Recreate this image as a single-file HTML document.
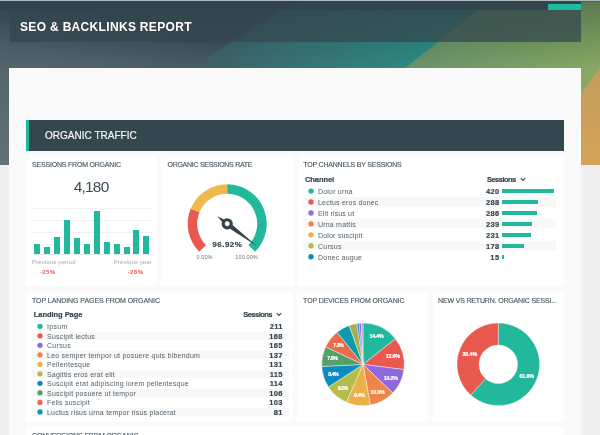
<!DOCTYPE html>
<html><head><meta charset="utf-8"><title>SEO &amp; Backlinks Report</title>
<style>
html,body{margin:0;padding:0;background:#efefef}
body{width:600px;height:435px;overflow:hidden;position:relative;font-family:"Liberation Sans",sans-serif}
#w{position:absolute;left:-20px;top:-20px;width:640px;height:475px;background:#efefef;overflow:hidden;filter:blur(0.45px)}
#c{position:absolute;left:20px;top:20px;width:600px;height:435px}
.r{position:absolute;display:block}
.t{position:absolute;display:block;white-space:nowrap;line-height:1;font-family:"Liberation Sans",sans-serif}
</style></head><body><div id="w"><div id="c">
<svg class="r" style="left:-20px;top:-20px" width="640" height="185" viewBox="-20 -20 640 185">
<defs>
<linearGradient id="gs" gradientUnits="userSpaceOnUse" x1="30" y1="0" x2="0" y2="165"><stop offset="0" stop-color="#3a4d56"/><stop offset="0.3" stop-color="#50626a"/><stop offset="1" stop-color="#627177"/></linearGradient>
<linearGradient id="gt" gradientUnits="userSpaceOnUse" x1="180" y1="0" x2="440" y2="0"><stop offset="0" stop-color="#3d6468" stop-opacity="0"/><stop offset="0.12" stop-color="#3d6468" stop-opacity="0.9"/><stop offset="0.35" stop-color="#3a7072"/><stop offset="1" stop-color="#2b8f85"/></linearGradient>
<linearGradient id="gg" gradientUnits="userSpaceOnUse" x1="400" y1="20" x2="600" y2="120"><stop offset="0" stop-color="#5f8f6c"/><stop offset="0.25" stop-color="#6f9968"/><stop offset="0.75" stop-color="#82a663"/><stop offset="1" stop-color="#8dab61"/></linearGradient><linearGradient id="gd" x1="0" y1="0" x2="0" y2="1"><stop offset="0" stop-color="#1f3038" stop-opacity="0.38"/><stop offset="1" stop-color="#1f3038" stop-opacity="0"/></linearGradient>
<linearGradient id="go" gradientUnits="userSpaceOnUse" x1="0" y1="68" x2="0" y2="165"><stop offset="0" stop-color="#c29c5c"/><stop offset="1" stop-color="#d6a458"/></linearGradient>
</defs>
<rect x="-20" y="-20" width="640" height="185" fill="url(#gs)"/>
<polygon points="163,85 329.8,-20 548,-20 400,85" fill="url(#gt)"/>
<polygon points="384,85 515,-20 620,-20 620,165 500,165" fill="url(#gg)"/>
<polygon points="526,165 581,93 620,41.7 620,165" fill="url(#go)"/>
<rect x="-20" y="0" width="640" height="70" fill="url(#gd)"/>
</svg>
<div class="r" style="left:-20px;top:-20px;width:640px;height:20px;background:#c3ccd0"></div><div class="r" style="left:-20px;top:0;width:640px;height:2.4px;background:linear-gradient(#c3ccd0,#a5b0b5 35%,rgba(60,78,86,0.6) 70%,rgba(43,59,67,0))"></div>
<div class="r" style="left:-20px;top:1.4px;width:601.00px;height:9.00px;background:rgba(50,68,77,0.97);"></div>
<div class="r" style="left:548px;top:3.6px;width:33.20px;height:6.80px;background:#20b9a1;"></div>
<div class="r" style="left:10px;top:10.4px;width:571.00px;height:32.10px;background:rgba(52,70,78,0.72);"></div>
<span class="t" style="left:20.00px;top:21px;font-size:12px;color:#ffffff;font-weight:bold;letter-spacing:0.325px;">SEO &amp; BACKLINKS REPORT</span>
<div class="r" style="left:9px;top:68px;width:572.00px;height:392.00px;background:#fafafa;"></div>
<div class="r" style="left:26px;top:119.5px;width:537.50px;height:31.00px;background:#34474f;"></div>
<div class="r" style="left:26px;top:119.5px;width:3.00px;height:31.00px;background:#1fb89c;"></div>
<span class="t" style="left:45.00px;top:131px;font-size:10px;color:#f4f6f7;letter-spacing:0.016px;-webkit-text-stroke:0.2px #f4f6f7;">ORGANIC TRAFFIC</span>
<div class="r" style="left:26px;top:155.5px;width:131.00px;height:130.80px;background:#ffffff;"></div>
<div class="r" style="left:161px;top:155.5px;width:133.00px;height:130.80px;background:#ffffff;"></div>
<div class="r" style="left:297.5px;top:155.5px;width:266.00px;height:130.80px;background:#ffffff;"></div>
<div class="r" style="left:26px;top:292px;width:267.00px;height:129.50px;background:#ffffff;"></div>
<div class="r" style="left:297px;top:292px;width:131.00px;height:129.50px;background:#ffffff;"></div>
<div class="r" style="left:432.5px;top:292px;width:131.00px;height:129.50px;background:#ffffff;"></div>
<div class="r" style="left:26px;top:426.5px;width:537.50px;height:33.50px;background:#ffffff;"></div>
<span class="t" style="left:32.00px;top:161px;font-size:7px;color:#4d5b63;letter-spacing:-0.198px;-webkit-text-stroke:0.15px #4d5b63;">SESSIONS FROM ORGANIC</span>
<span class="t" style="left:167.50px;top:161px;font-size:7px;color:#4d5b63;letter-spacing:-0.275px;-webkit-text-stroke:0.15px #4d5b63;">ORGANIC SESSIONS RATE</span>
<span class="t" style="left:303.25px;top:161px;font-size:7px;color:#4d5b63;letter-spacing:-0.200px;-webkit-text-stroke:0.15px #4d5b63;">TOP CHANNELS BY SESSIONS</span>
<span class="t" style="left:32.00px;top:297px;font-size:7px;color:#4d5b63;letter-spacing:-0.066px;-webkit-text-stroke:0.15px #4d5b63;">TOP LANDING PAGES FROM ORGANIC</span>
<span class="t" style="left:303.10px;top:297px;font-size:7px;color:#4d5b63;letter-spacing:-0.112px;-webkit-text-stroke:0.15px #4d5b63;">TOP DEVICES FROM ORGANIC</span>
<span class="t" style="left:438.10px;top:297px;font-size:7px;color:#4d5b63;letter-spacing:-0.169px;-webkit-text-stroke:0.15px #4d5b63;">NEW VS RETURN. ORGANIC SESSI...</span>
<span class="t" style="left:32.00px;top:432px;font-size:7px;color:#4d5b63;letter-spacing:-0.104px;-webkit-text-stroke:0.15px #4d5b63;">CONVERSIONS FROM ORGANIC</span>
<span class="t" style="left:73.75px;top:179px;font-size:15.5px;color:#3d4c55;letter-spacing:-0.821px;">4,180</span>
<div class="r" style="left:32px;top:208px;width:120.00px;height:0.60px;background:#eff1f2;"></div>
<div class="r" style="left:32px;top:220px;width:120.00px;height:0.60px;background:#eff1f2;"></div>
<div class="r" style="left:32px;top:232px;width:120.00px;height:0.60px;background:#eff1f2;"></div>
<div class="r" style="left:32px;top:243.5px;width:120.00px;height:0.60px;background:#eff1f2;"></div>
<div class="r" style="left:32px;top:254px;width:120.00px;height:0.70px;background:#e8eaec;"></div>
<div class="r" style="left:34.25px;top:243.75px;width:6.00px;height:10.45px;background:#22b89c;"></div>
<div class="r" style="left:44px;top:247.25px;width:6.00px;height:6.95px;background:#22b89c;"></div>
<div class="r" style="left:54px;top:236.75px;width:6.00px;height:17.45px;background:#22b89c;"></div>
<div class="r" style="left:63.75px;top:220.25px;width:6.00px;height:33.95px;background:#22b89c;"></div>
<div class="r" style="left:73.75px;top:237.75px;width:6.00px;height:16.45px;background:#22b89c;"></div>
<div class="r" style="left:83.75px;top:243.5px;width:6.00px;height:10.70px;background:#22b89c;"></div>
<div class="r" style="left:93.5px;top:211px;width:6.00px;height:43.20px;background:#22b89c;"></div>
<div class="r" style="left:103.5px;top:242px;width:6.00px;height:12.20px;background:#22b89c;"></div>
<div class="r" style="left:113.5px;top:243.5px;width:6.00px;height:10.70px;background:#22b89c;"></div>
<div class="r" style="left:123.5px;top:247.25px;width:6.00px;height:6.95px;background:#22b89c;"></div>
<div class="r" style="left:133.25px;top:229.5px;width:6.00px;height:24.70px;background:#22b89c;"></div>
<div class="r" style="left:143.25px;top:235.75px;width:6.00px;height:18.45px;background:#22b89c;"></div>
<span class="t" style="left:32.00px;top:259px;font-size:6px;color:#a3a9ad;letter-spacing:0.130px;">Previous period</span>
<span class="t" style="left:113.75px;top:259px;font-size:6px;color:#a3a9ad;letter-spacing:0.110px;">Previous year</span>
<span class="t" style="left:40.00px;top:269px;font-size:6px;color:#e8554d;font-weight:bold;letter-spacing:0.331px;">-25%</span>
<span class="t" style="left:127.50px;top:269px;font-size:6px;color:#e8554d;font-weight:bold;letter-spacing:0.498px;">-28%</span>
<svg class="r" style="left:0;top:0" width="600" height="435" viewBox="0 0 600 435"><path d="M199.27,251.73A39.5,39.5 0 0 1 190.71,208.68L199.48,212.32A30,30 0 0 0 205.99,245.01Z" fill="#e9594f"/><path d="M190.71,208.68A39.5,39.5 0 0 1 227.20,184.30L227.20,193.80A30,30 0 0 0 199.48,212.32Z" fill="#efb94d"/><path d="M227.20,184.30A39.5,39.5 0 0 1 255.13,251.73L248.41,245.01A30,30 0 0 0 227.20,193.80Z" fill="#22b89c"/><polygon points="257.23,246.26 225.64,225.88 217.19,216.31 228.76,221.72" fill="#33444d"/><circle cx="227.2" cy="223.8" r="5.6" fill="#33444d"/><circle cx="227.2" cy="223.8" r="2.45" fill="#ffffff"/></svg>
<span class="t" style="left:212.30px;top:241px;font-size:8px;color:#36454d;font-weight:bold;letter-spacing:0.494px;-webkit-text-stroke:0.2px #36454d;">96.92%</span>
<span class="t" style="left:196.50px;top:255px;font-size:5.5px;color:#6b777e;letter-spacing:0.101px;">0.00%</span>
<span class="t" style="left:235.30px;top:255px;font-size:5.5px;color:#6b777e;letter-spacing:0.115px;">100.00%</span>
<span class="t" style="left:305.00px;top:176px;font-size:7.5px;color:#36454d;font-weight:bold;letter-spacing:-0.064px;-webkit-text-stroke:0.2px #36454d;">Channel</span>
<span class="t" style="left:487.00px;top:176px;font-size:7.5px;color:#36454d;font-weight:bold;letter-spacing:-0.533px;-webkit-text-stroke:0.2px #36454d;">Sessions</span>
<svg class="r" style="left:520.2px;top:177px" width="6" height="5" viewBox="0 0 6 5"><path d="M0.8,1.2 L3,3.5 L5.2,1.2" fill="none" stroke="#38474f" stroke-width="1.15"/></svg>
<span class="t" style="left:318.00px;top:188px;font-size:7px;color:#525f67;letter-spacing:0.200px;">Dolor urna</span>
<span class="t" style="left:485.96px;top:188px;font-size:7.5px;color:#36454d;font-weight:bold;letter-spacing:0.313px;-webkit-text-stroke:0.2px #36454d;">420</span>
<div class="r" style="left:502px;top:188.9px;width:51.91px;height:4.40px;background:#22b89c;"></div>
<div class="r" style="left:303px;top:197.47px;width:252.50px;height:9.14px;background:#f8f8f8;"></div>
<span class="t" style="left:318.00px;top:199px;font-size:7px;color:#525f67;letter-spacing:0.197px;">Lectus eros donec</span>
<span class="t" style="left:485.96px;top:199px;font-size:7.5px;color:#36454d;font-weight:bold;letter-spacing:0.313px;-webkit-text-stroke:0.2px #36454d;">288</span>
<div class="r" style="left:502px;top:199.84px;width:35.60px;height:4.40px;background:#22b89c;"></div>
<span class="t" style="left:318.00px;top:210px;font-size:7px;color:#525f67;letter-spacing:0.157px;">Elit risus ut</span>
<span class="t" style="left:485.96px;top:210px;font-size:7.5px;color:#36454d;font-weight:bold;letter-spacing:0.313px;-webkit-text-stroke:0.2px #36454d;">286</span>
<div class="r" style="left:502px;top:210.78px;width:35.35px;height:4.40px;background:#22b89c;"></div>
<div class="r" style="left:303px;top:219.35px;width:252.50px;height:9.14px;background:#f8f8f8;"></div>
<span class="t" style="left:318.00px;top:221px;font-size:7px;color:#525f67;letter-spacing:0.197px;">Urna mattis</span>
<span class="t" style="left:485.96px;top:221px;font-size:7.5px;color:#36454d;font-weight:bold;letter-spacing:0.313px;-webkit-text-stroke:0.2px #36454d;">239</span>
<div class="r" style="left:502px;top:221.72px;width:29.54px;height:4.40px;background:#22b89c;"></div>
<span class="t" style="left:318.00px;top:232px;font-size:7px;color:#525f67;letter-spacing:0.178px;">Dolor suscipit</span>
<span class="t" style="left:485.96px;top:232px;font-size:7.5px;color:#36454d;font-weight:bold;letter-spacing:0.313px;-webkit-text-stroke:0.2px #36454d;">231</span>
<div class="r" style="left:502px;top:232.66px;width:28.55px;height:4.40px;background:#22b89c;"></div>
<div class="r" style="left:303px;top:241.23px;width:252.50px;height:9.14px;background:#f8f8f8;"></div>
<span class="t" style="left:318.00px;top:243px;font-size:7px;color:#525f67;letter-spacing:0.244px;">Cursus</span>
<span class="t" style="left:485.96px;top:243px;font-size:7.5px;color:#36454d;font-weight:bold;letter-spacing:0.313px;-webkit-text-stroke:0.2px #36454d;">178</span>
<div class="r" style="left:502px;top:243.6px;width:22.00px;height:4.40px;background:#22b89c;"></div>
<span class="t" style="left:318.00px;top:254px;font-size:7px;color:#525f67;letter-spacing:0.229px;">Donec augue</span>
<span class="t" style="left:490.34px;top:254px;font-size:7.5px;color:#36454d;font-weight:bold;letter-spacing:0.417px;-webkit-text-stroke:0.2px #36454d;">15</span>
<div class="r" style="left:502px;top:254.54000000000002px;width:1.85px;height:4.40px;background:#22b89c;"></div>
<span class="t" style="left:33.75px;top:311px;font-size:7.5px;color:#36454d;font-weight:bold;letter-spacing:-0.042px;-webkit-text-stroke:0.2px #36454d;">Landing Page</span>
<span class="t" style="left:243.25px;top:311px;font-size:7.5px;color:#36454d;font-weight:bold;letter-spacing:-0.533px;-webkit-text-stroke:0.2px #36454d;">Sessions</span>
<svg class="r" style="left:276.4px;top:312.3px" width="6" height="5" viewBox="0 0 6 5"><path d="M0.8,1.2 L3,3.5 L5.2,1.2" fill="none" stroke="#38474f" stroke-width="1.15"/></svg>
<span class="t" style="left:47.00px;top:323px;font-size:7px;color:#525f67;letter-spacing:0.324px;">Ipsum</span>
<span class="t" style="left:269.70px;top:323px;font-size:7.5px;color:#36454d;font-weight:bold;letter-spacing:0.302px;-webkit-text-stroke:0.2px #36454d;">211</span>
<div class="r" style="left:32px;top:331.65500000000003px;width:257.00px;height:8.31px;background:#f8f8f8;"></div>
<span class="t" style="left:47.00px;top:333px;font-size:7px;color:#525f67;letter-spacing:0.217px;">Suscipit lectus</span>
<span class="t" style="left:269.26px;top:333px;font-size:7.5px;color:#36454d;font-weight:bold;letter-spacing:0.313px;-webkit-text-stroke:0.2px #36454d;">168</span>
<span class="t" style="left:47.00px;top:342px;font-size:7px;color:#525f67;letter-spacing:0.302px;">Cursus</span>
<span class="t" style="left:269.26px;top:342px;font-size:7.5px;color:#36454d;font-weight:bold;letter-spacing:0.313px;-webkit-text-stroke:0.2px #36454d;">165</span>
<div class="r" style="left:32px;top:350.67500000000007px;width:257.00px;height:8.31px;background:#f8f8f8;"></div>
<span class="t" style="left:47.00px;top:352px;font-size:7px;color:#525f67;letter-spacing:0.237px;">Leo semper tempor ut posuere quis bibendum</span>
<span class="t" style="left:269.26px;top:352px;font-size:7.5px;color:#36454d;font-weight:bold;letter-spacing:0.313px;-webkit-text-stroke:0.2px #36454d;">137</span>
<span class="t" style="left:47.00px;top:361px;font-size:7px;color:#525f67;letter-spacing:0.250px;">Pellentesque</span>
<span class="t" style="left:269.26px;top:361px;font-size:7.5px;color:#36454d;font-weight:bold;letter-spacing:0.313px;-webkit-text-stroke:0.2px #36454d;">131</span>
<div class="r" style="left:32px;top:369.69500000000005px;width:257.00px;height:8.31px;background:#f8f8f8;"></div>
<span class="t" style="left:47.00px;top:371px;font-size:7px;color:#525f67;letter-spacing:0.196px;">Sagittis eros erat elit</span>
<span class="t" style="left:269.70px;top:371px;font-size:7.5px;color:#36454d;font-weight:bold;letter-spacing:0.302px;-webkit-text-stroke:0.2px #36454d;">115</span>
<span class="t" style="left:47.00px;top:380px;font-size:7px;color:#525f67;letter-spacing:0.215px;">Suscipit erat adipiscing lorem pellentesque</span>
<span class="t" style="left:269.70px;top:380px;font-size:7.5px;color:#36454d;font-weight:bold;letter-spacing:0.302px;-webkit-text-stroke:0.2px #36454d;">114</span>
<div class="r" style="left:32px;top:388.71500000000003px;width:257.00px;height:8.31px;background:#f8f8f8;"></div>
<span class="t" style="left:47.00px;top:390px;font-size:7px;color:#525f67;letter-spacing:0.226px;">Suscipit posuere ut tempor</span>
<span class="t" style="left:269.26px;top:390px;font-size:7.5px;color:#36454d;font-weight:bold;letter-spacing:0.313px;-webkit-text-stroke:0.2px #36454d;">106</span>
<span class="t" style="left:47.00px;top:399px;font-size:7px;color:#525f67;letter-spacing:0.210px;">Felis suscipit</span>
<span class="t" style="left:269.26px;top:399px;font-size:7.5px;color:#36454d;font-weight:bold;letter-spacing:0.313px;-webkit-text-stroke:0.2px #36454d;">103</span>
<div class="r" style="left:32px;top:407.735px;width:257.00px;height:8.31px;background:#f8f8f8;"></div>
<span class="t" style="left:47.00px;top:409px;font-size:7px;color:#525f67;letter-spacing:0.216px;">Luctus risus urna tempor risus placerat</span>
<span class="t" style="left:273.64px;top:409px;font-size:7.5px;color:#36454d;font-weight:bold;letter-spacing:0.417px;-webkit-text-stroke:0.2px #36454d;">81</span>
<svg class="r" style="left:0;top:0" width="600" height="435" viewBox="0 0 600 435"><circle cx="311" cy="191.10" r="2.7" fill="#22b89c"/><circle cx="311" cy="202.04" r="2.7" fill="#e9594f"/><circle cx="311" cy="212.98" r="2.7" fill="#8f69dc"/><circle cx="311" cy="223.92" r="2.7" fill="#f0854c"/><circle cx="311" cy="234.86" r="2.7" fill="#ebb04a"/><circle cx="311" cy="245.80" r="2.7" fill="#b5bd48"/><circle cx="311" cy="256.74" r="2.7" fill="#0b8cc0"/><circle cx="40" cy="326.30" r="2.65" fill="#22b89c"/><circle cx="40" cy="335.81" r="2.65" fill="#e9594f"/><circle cx="40" cy="345.32" r="2.65" fill="#8f69dc"/><circle cx="40" cy="354.83" r="2.65" fill="#f0854c"/><circle cx="40" cy="364.34" r="2.65" fill="#ebb04a"/><circle cx="40" cy="373.85" r="2.65" fill="#b5bd48"/><circle cx="40" cy="383.36" r="2.65" fill="#0b8cc0"/><circle cx="40" cy="392.87" r="2.65" fill="#55a065"/><circle cx="40" cy="402.38" r="2.65" fill="#ea6b4b"/><circle cx="40" cy="411.89" r="2.65" fill="#0b9bab"/></svg>
<svg class="r" style="left:0;top:0" width="600" height="435" viewBox="0 0 600 435"><path d="M363.00,364.40L363.00,323.10A41.3,41.3 0 0 1 395.47,338.88Z" fill="#22b89c" stroke="#fbfbfb" stroke-opacity="0.75" stroke-width="0.6" stroke-linejoin="round"/><path d="M363.00,364.40L395.47,338.88A41.3,41.3 0 0 1 403.97,369.58Z" fill="#e9594f" stroke="#fbfbfb" stroke-opacity="0.75" stroke-width="0.6" stroke-linejoin="round"/><path d="M363.00,364.40L403.97,369.58A41.3,41.3 0 0 1 392.75,393.05Z" fill="#8f69dc" stroke="#fbfbfb" stroke-opacity="0.75" stroke-width="0.6" stroke-linejoin="round"/><path d="M363.00,364.40L392.75,393.05A41.3,41.3 0 0 1 370.23,405.06Z" fill="#f0854c" stroke="#fbfbfb" stroke-opacity="0.75" stroke-width="0.6" stroke-linejoin="round"/><path d="M363.00,364.40L370.23,405.06A41.3,41.3 0 0 1 346.36,402.20Z" fill="#ebb04a" stroke="#fbfbfb" stroke-opacity="0.75" stroke-width="0.6" stroke-linejoin="round"/><path d="M363.00,364.40L346.36,402.20A41.3,41.3 0 0 1 328.41,386.97Z" fill="#b5bd48" stroke="#fbfbfb" stroke-opacity="0.75" stroke-width="0.6" stroke-linejoin="round"/><path d="M363.00,364.40L328.41,386.97A41.3,41.3 0 0 1 321.75,366.48Z" fill="#0b8cc0" stroke="#fbfbfb" stroke-opacity="0.75" stroke-width="0.6" stroke-linejoin="round"/><path d="M363.00,364.40L321.75,366.48A41.3,41.3 0 0 1 325.63,346.82Z" fill="#55a065" stroke="#fbfbfb" stroke-opacity="0.75" stroke-width="0.6" stroke-linejoin="round"/><path d="M363.00,364.40L325.63,346.82A41.3,41.3 0 0 1 337.08,332.25Z" fill="#ea6b4b" stroke="#fbfbfb" stroke-opacity="0.75" stroke-width="0.6" stroke-linejoin="round"/><path d="M363.00,364.40L337.08,332.25A41.3,41.3 0 0 1 349.25,325.45Z" fill="#0b9bab" stroke="#fbfbfb" stroke-opacity="0.75" stroke-width="0.6" stroke-linejoin="round"/><path d="M363.00,364.40L349.25,325.45A41.3,41.3 0 0 1 356.80,323.57Z" fill="#a3b04e" stroke="#fbfbfb" stroke-opacity="0.75" stroke-width="0.6" stroke-linejoin="round"/><path d="M363.00,364.40L356.80,323.57A41.3,41.3 0 0 1 359.11,323.28Z" fill="#3f7fd8" stroke="#fbfbfb" stroke-opacity="0.75" stroke-width="0.6" stroke-linejoin="round"/><path d="M363.00,364.40L359.11,323.28A41.3,41.3 0 0 1 361.31,323.13Z" fill="#8a68dc" stroke="#fbfbfb" stroke-opacity="0.75" stroke-width="0.6" stroke-linejoin="round"/><path d="M363.00,364.40L361.31,323.13A41.3,41.3 0 0 1 363.00,323.10Z" fill="#a99fe8" stroke="#fbfbfb" stroke-opacity="0.75" stroke-width="0.6" stroke-linejoin="round"/></svg>
<span class="t" style="left:369.39px;top:334px;font-size:5.3px;color:#ffffff;font-weight:bold;letter-spacing:-0.182px;-webkit-text-stroke:0.2px #ffffff;">14.4%</span>
<span class="t" style="left:385.70px;top:354px;font-size:5.3px;color:#ffffff;font-weight:bold;letter-spacing:-0.182px;-webkit-text-stroke:0.2px #ffffff;">12.6%</span>
<span class="t" style="left:383.79px;top:376px;font-size:5.3px;color:#ffffff;font-weight:bold;letter-spacing:-0.182px;-webkit-text-stroke:0.2px #ffffff;">10.2%</span>
<span class="t" style="left:370.43px;top:390px;font-size:5.3px;color:#ffffff;font-weight:bold;letter-spacing:-0.182px;-webkit-text-stroke:0.2px #ffffff;">10.0%</span>
<span class="t" style="left:354.01px;top:393px;font-size:5.3px;color:#ffffff;font-weight:bold;letter-spacing:-0.493px;-webkit-text-stroke:0.2px #ffffff;">9.4%</span>
<span class="t" style="left:337.66px;top:386px;font-size:5.3px;color:#ffffff;font-weight:bold;letter-spacing:-0.493px;-webkit-text-stroke:0.2px #ffffff;">9.2%</span>
<span class="t" style="left:328.24px;top:372px;font-size:5.3px;color:#ffffff;font-weight:bold;letter-spacing:-0.493px;-webkit-text-stroke:0.2px #ffffff;">8.4%</span>
<span class="t" style="left:327.31px;top:356px;font-size:5.3px;color:#ffffff;font-weight:bold;letter-spacing:-0.493px;-webkit-text-stroke:0.2px #ffffff;">7.8%</span>
<span class="t" style="left:333.34px;top:343px;font-size:5.3px;color:#ffffff;font-weight:bold;letter-spacing:-0.493px;-webkit-text-stroke:0.2px #ffffff;">7.2%</span>
<svg class="r" style="left:0;top:0" width="600" height="435" viewBox="0 0 600 435"><path d="M498.30,323.00A41.3,41.3 0 1 1 470.79,395.11L485.45,378.70A19.3,19.3 0 1 0 498.30,345.00Z" fill="#22b89c" stroke="#fbfbfb" stroke-opacity="0.7" stroke-width="0.5"/><path d="M470.79,395.11A41.3,41.3 0 0 1 498.30,323.00L498.30,345.00A19.3,19.3 0 0 0 485.45,378.70Z" fill="#e9594f" stroke="#fbfbfb" stroke-opacity="0.7" stroke-width="0.5"/></svg>
<span class="t" style="left:462.50px;top:352px;font-size:5.3px;color:#ffffff;font-weight:bold;letter-spacing:-0.107px;-webkit-text-stroke:0.2px #ffffff;">38.4%</span>
<span class="t" style="left:519.40px;top:374px;font-size:5.3px;color:#ffffff;font-weight:bold;letter-spacing:-0.107px;-webkit-text-stroke:0.2px #ffffff;">61.6%</span>
</div></div></body></html>
